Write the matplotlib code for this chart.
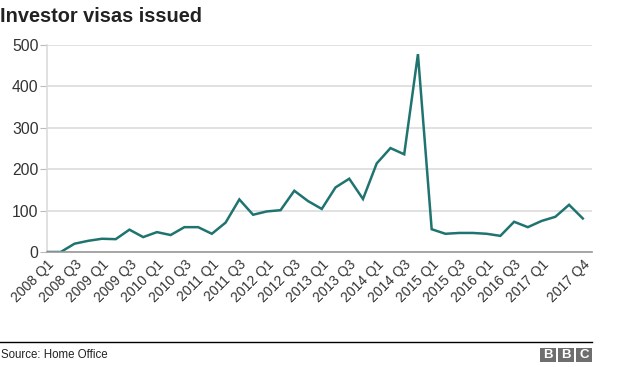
import matplotlib
matplotlib.use("Agg")
import matplotlib.pyplot as plt
from matplotlib.patches import Rectangle

# quarterly investor visas, 2008 Q1 .. 2017 Q4
visas = [0, 0, 20, 27, 32, 31, 54, 36, 48, 41,
         60, 60, 44, 71, 127, 90, 98, 101, 148, 123,
         104, 156, 177, 128, 214, 251, 236, 478, 55, 44,
         46, 46, 44, 39, 73, 60, 75, 85, 114, 81]
tick_pos = list(range(0, 38, 2)) + [39]
tick_labels = ["2008 Q1", "2008 Q3", "2009 Q1", "2009 Q3", "2010 Q1", "2010 Q3",
               "2011 Q1", "2011 Q3", "2012 Q1", "2012 Q3", "2013 Q1", "2013 Q3",
               "2014 Q1", "2014 Q3", "2015 Q1", "2015 Q3", "2016 Q1", "2016 Q3",
               "2017 Q1", "2017 Q4"]
y_ticks = [0, 100, 200, 300, 400, 500]

plt.rcParams["font.family"] = ["Liberation Sans", "DejaVu Sans"]
W, H = 624, 367
fig = plt.figure(figsize=(W / 100, H / 100), dpi=100)
ax = fig.add_axes([47 / W, 1 - 252 / H, (592 - 47) / W, (252 - 45) / H])

ax.plot(range(len(visas)), visas, color="#1f7470", lw=1.8, solid_joinstyle="miter", zorder=3)
ax.set_xlim(0, 39.67)
ax.set_ylim(0, 500)
ax.set_yticks(y_ticks)
ax.set_yticklabels([str(v) for v in y_ticks], fontsize=11.3, color="#333333")
ax.set_xticks(tick_pos)
ax.set_xticklabels(tick_labels, rotation=45, ha="right", rotation_mode="anchor",
                   fontsize=10, color="#333333")
ax.tick_params(axis="x", length=0, pad=4)
ax.tick_params(axis="y", length=5, color="#bbbbbb", pad=1)
ax.grid(axis="y", color="#dcdcdc", lw=1.2, zorder=0)
for s in ["top", "right"]:
    ax.spines[s].set_visible(False)
ax.spines["left"].set_color("#dcdcdc")
ax.spines["left"].set_linewidth(1.2)
ax.spines["bottom"].set_color("#999999")
ax.spines["bottom"].set_linewidth(1.2)
ax.spines["bottom"].set_zorder(4)

fig.text(0, 1 - 17 / H, "Investor visas issued", fontsize=14.4, fontweight="bold",
         color="#222222", va="center", ha="left")

# footer
fig.add_artist(plt.Line2D([0, 592 / W], [1 - 342 / H, 1 - 342 / H], color="black", lw=1))
fig.text(1 / W, 1 - 355 / H, "Source: Home Office", fontsize=8.3, color="#222222",
         va="center", ha="left")
for i, letter in enumerate("BBC"):
    x0 = 540 + i * 18
    fig.add_artist(Rectangle((x0 / W, 1 - 362 / H), 16 / W, 14 / H,
                             transform=fig.transFigure, color="#6e6e6e", lw=0))
    fig.text((x0 + 8) / W, 1 - 355 / H, letter, fontsize=9.5, fontweight="bold",
             color="white", ha="center", va="center")

fig.savefig("out.png", dpi=100)
